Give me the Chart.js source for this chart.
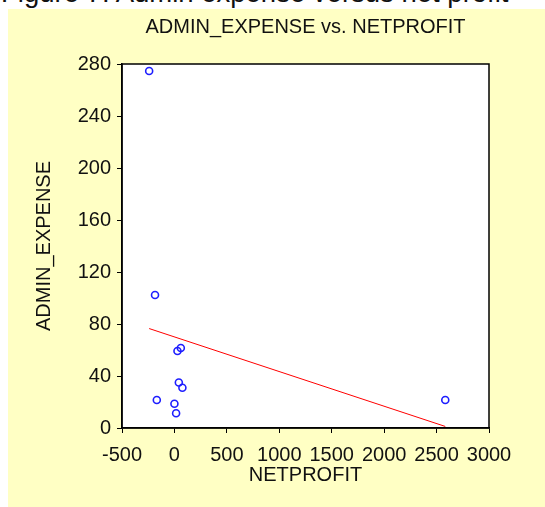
<!DOCTYPE html>
<html>
<head>
<meta charset="utf-8">
<script src="https://cdn.jsdelivr.net/npm/chart.js@4"></script>
<style>
  html, body { margin: 0; padding: 0; background: #fff; }
  body { width: 545px; height: 507px; position: relative; overflow: hidden; font-family: "Liberation Sans", Arial, sans-serif; }
  #caption { position: absolute; left: 1px; top: -21px; font-size: 27.5px; line-height: 28px; color: #111; white-space: nowrap; }
  #panel { position: absolute; left: 8px; top: 9px; width: 537px; height: 498px; background: #ffffc4; }
</style>
</head>
<body>
<div id="caption">Figure 7: Admin expense versus net profit</div>
<div id="panel"><canvas id="myChart" width="537" height="498"></canvas></div>
<script>
const ctx = document.getElementById('myChart').getContext('2d')

// values
const netProfit    = [-241, -185, 29, 61, 42, 76, -168, 0, 16, 2583]
const adminExpense = [274.6, 102.3, 59.2, 61.5, 35, 31, 21.5, 18.7, 11.3, 21.5]
const fitX = [-241, 2583]
const fitY = [76.5, 1.2]

const xTicks = [-500, 0, 500, 1000, 1500, 2000, 2500, 3000]
const yTicks = [0, 40, 80, 120, 160, 200, 240, 280]

const chartTitle = 'ADMIN_EXPENSE vs. NETPROFIT'
const font = { family: '"Liberation Sans", Arial, sans-serif', size: 20 }

const points = netProfit.map((x, i) => ({ x: x, y: adminExpense[i] }))
const fitLine = fitX.map((x, i) => ({ x: x, y: fitY[i] }))

// white plot box with full frame, title centred over it
const plotBox = {
	id: 'plotBox',
	beforeDraw(chart){
		const a = chart.chartArea
		const c = chart.ctx
		c.save()
		c.fillStyle = '#ffffff'
		c.fillRect(a.left, a.top, a.right - a.left, a.bottom - a.top)
		c.restore()
	},
	afterDraw(chart){
		const a = chart.chartArea
		const c = chart.ctx
		c.save()
		c.strokeStyle = '#000'
		c.lineWidth = 1.5
		c.strokeRect(a.left, a.top, a.right - a.left, a.bottom - a.top)
		c.fillStyle = '#111'
		c.font = font.size + 'px ' + font.family
		c.textAlign = 'center'
		c.textBaseline = 'middle'
		c.fillText(chartTitle, (a.left + a.right) / 2, 18)
		c.restore()
	}
}

const myChart = new Chart(ctx, {
	type: 'scatter',
	data: {
		datasets: [{
			label: 'points',
			data: points,
			pointRadius: 3.5,
			pointHoverRadius: 3.5,
			pointBorderWidth: 1.6,
			borderColor: 'rgb(30,30,255)',
			backgroundColor: 'rgba(0,0,0,0)'
		}, {
			label: 'fit',
			data: fitLine,
			showLine: true,
			pointRadius: 0,
			borderColor: 'rgb(255,0,0)',
			borderWidth: 1,
			backgroundColor: 'rgba(0,0,0,0)'
		}]
	},
	options: {
		responsive: false,
		animation: false,
		events: [],
		layout: { padding: { top: 55, right: 56, left: 0, bottom: 0 } },
		plugins: {
			legend: { display: false },
			title: { display: false },
			tooltip: { enabled: false }
		},
		scales: {
			x: {
				type: 'linear',
				min: xTicks[0],
				max: xTicks[xTicks.length - 1],
				afterBuildTicks: s => { s.ticks = xTicks.map(v => ({ value: v })) },
				afterFit: s => { s.height = 79 },
				grid: { display: true, drawOnChartArea: false, drawTicks: true, tickLength: 5, color: '#000', lineWidth: 1 },
				border: { display: true, color: '#000', width: 1.5 },
				ticks: { color: '#111', font: font, padding: 10, maxRotation: 0, autoSkip: false, callback: v => String(v) },
				title: { display: true, text: 'NETPROFIT', color: '#111', font: font, padding: { top: 0, bottom: 20 } }
			},
			y: {
				type: 'linear',
				min: yTicks[0],
				max: yTicks[yTicks.length - 1],
				afterBuildTicks: s => { s.ticks = yTicks.map(v => ({ value: v })) },
				afterFit: s => { s.width = 114 },
				grid: { display: true, drawOnChartArea: false, drawTicks: true, tickLength: 5, color: '#000', lineWidth: 1 },
				border: { display: true, color: '#000', width: 1.5 },
				ticks: { color: '#111', font: font, padding: 6, autoSkip: false, callback: v => String(v) },
				title: { display: true, text: 'ADMIN_EXPENSE', color: '#111', font: font, padding: { top: 24, bottom: 0 } }
			}
		}
	},
	plugins: [plotBox]
})
</script>
</body>
</html>
